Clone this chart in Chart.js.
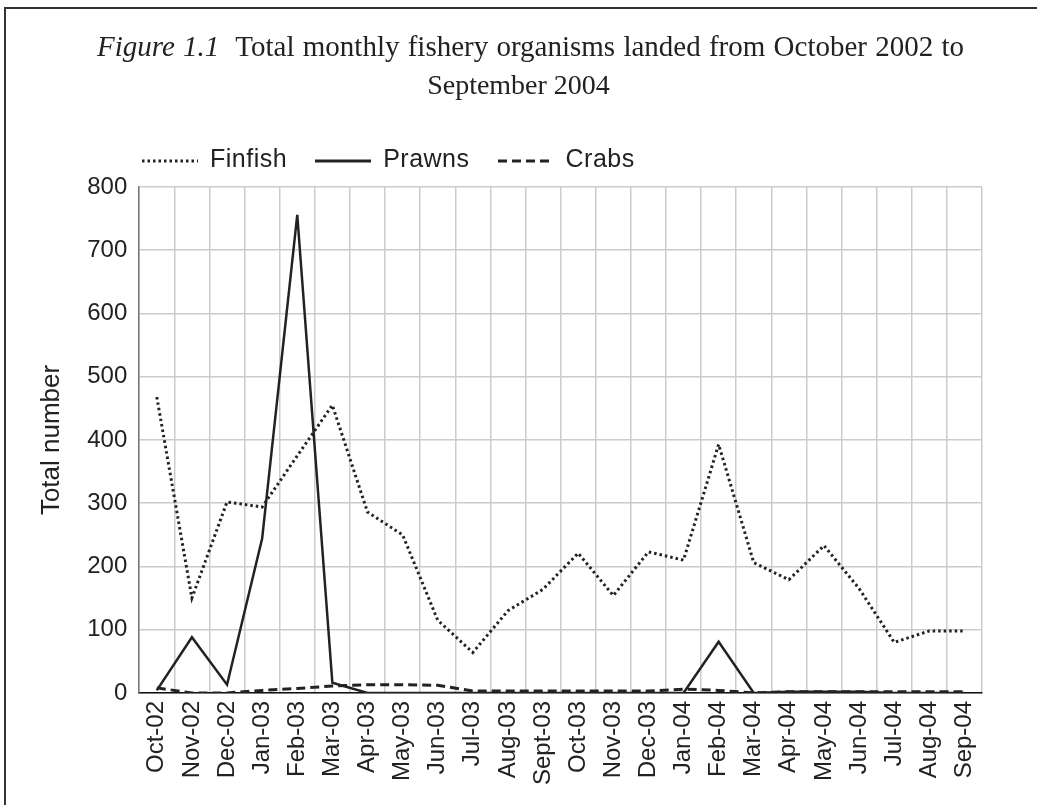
<!DOCTYPE html>
<html lang="en">
<head>
<meta charset="UTF-8">
<title>Figure 1.1</title>
<script src="https://cdn.jsdelivr.net/npm/chart.js@4"></script>
<style>
  * { margin: 0; padding: 0; box-sizing: border-box; }
  body { width: 1037px; height: 805px; background: #fff; position: relative; overflow: hidden; }
  .frame { position: absolute; left: 4px; top: 7px; right: -10px; bottom: -10px; border-top: 2px solid #333; border-left: 2px solid #333; }
  .title { position: absolute; font-family: 'Liberation Serif', 'Times New Roman', serif; font-size: 29px; line-height: 38px; color: #222; white-space: nowrap; }
  .title.l1 { left: 97px; top: 27px; word-spacing: 1px; }
  .title.l2 { left: 0; top: 66px; width: 1037px; text-align: center; font-size: 28px; }
  .legend { position: absolute; left: 142px; top: 143px; height: 30px; display: flex; align-items: center; font-family: 'Liberation Sans', Arial, sans-serif; font-size: 25px; color: #222; }
  .legend svg { margin-right: 12px; margin-top: 6px; }
  .legend span { margin-right: 28px; letter-spacing: 0.5px; }
  canvas { position: absolute; left: 0; top: 0; }
</style>
</head>
<body>
<div class="frame"></div>
<canvas id="chart" width="1037" height="805"></canvas>
<div class="title l1"><i>Figure 1.1</i>&nbsp; Total monthly fishery organisms landed from October 2002 to</div>
<div class="title l2">September 2004</div>
<div class="legend" id="legend"></div>

<script>
const months = ['Oct-02', 'Nov-02', 'Dec-02', 'Jan-03', 'Feb-03', 'Mar-03', 'Apr-03', 'May-03', 'Jun-03', 'Jul-03', 'Aug-03', 'Sept-03',
  'Oct-03', 'Nov-03', 'Dec-03', 'Jan-04', 'Feb-04', 'Mar-04', 'Apr-04', 'May-04', 'Jun-04', 'Jul-04', 'Aug-04', 'Sep-04'];

const finfish = [468, 150, 302, 294, 375, 455, 286, 250, 115, 64, 130, 164,
  221, 154, 223, 210, 393, 206, 179, 233, 165, 80, 98, 98];
const prawns = [4, 88, 13, 244, 756, 16, 0, 0, 0, 0, 0, 0,
  0, 0, 0, 0, 81, 0, 2, 2, 2, 0, 0, 0];
const crabs = [8, 0, 0, 4, 7, 11, 13, 13, 12, 3, 3, 3,
  3, 3, 3, 6, 4, 0, 2, 2, 2, 2, 2, 2];

const yTicks = [0, 100, 200, 300, 400, 500, 600, 700, 800];

const ink = '#222';
const font = "'Liberation Sans', Arial, sans-serif";

const chart = new Chart(document.getElementById('chart'), {
  type: 'line',
  data: {
    labels: months,
    datasets: [
      { label: 'Finfish', data: finfish, borderColor: ink, borderWidth: 3, borderDash: [2.5, 3], pointRadius: 0, tension: 0 },
      { label: 'Prawns', data: prawns, borderColor: ink, borderWidth: 2.5, borderDash: [], pointRadius: 0, tension: 0 },
      { label: 'Crabs', data: crabs, borderColor: ink, borderWidth: 3, borderDash: [9, 5], pointRadius: 0, tension: 0 }
    ]
  },
  options: {
    responsive: false,
    animation: false,
    layout: { padding: { top: 187, left: 36, right: 55, bottom: 12 } },
    plugins: {
      tooltip: { enabled: false },
      legend: { display: false }
    },
    scales: {
      x: {
        offset: true,
        grid: { offset: true, color: '#ccc', lineWidth: 1.5, drawTicks: false },
        border: { color: '#111', width: 1.5 },
        ticks: { color: ink, font: { family: font, size: 24 }, minRotation: 90, maxRotation: 90, autoSkip: false, padding: 8 }
      },
      y: {
        min: 0,
        max: 800,
        afterBuildTicks: axis => { axis.ticks = yTicks.map(v => ({ value: v })); },
        grid: { color: '#ccc', lineWidth: 1.5, drawTicks: false },
        border: { color: '#777', width: 1.5 },
        ticks: { color: ink, font: { family: font, size: 24 }, padding: 12 },
        title: { display: true, text: 'Total number', color: ink, font: { family: font, size: 26 }, padding: { top: 0, bottom: 8 } }
      }
    }
  }
});

// legend built from the chart's own datasets
const legendEl = document.getElementById('legend');
chart.data.datasets.forEach(ds => {
  const ns = 'http://www.w3.org/2000/svg';
  const svg = document.createElementNS(ns, 'svg');
  svg.setAttribute('width', 56);
  svg.setAttribute('height', 6);
  const line = document.createElementNS(ns, 'line');
  line.setAttribute('x1', 0); line.setAttribute('x2', 56);
  line.setAttribute('y1', 3); line.setAttribute('y2', 3);
  line.setAttribute('stroke', ds.borderColor);
  line.setAttribute('stroke-width', 3);
  if (ds.borderDash.length) line.setAttribute('stroke-dasharray', ds.borderDash.join(' '));
  svg.appendChild(line);
  const label = document.createElement('span');
  label.textContent = ds.label;
  legendEl.appendChild(svg);
  legendEl.appendChild(label);
});
</script>
</body>
</html>
